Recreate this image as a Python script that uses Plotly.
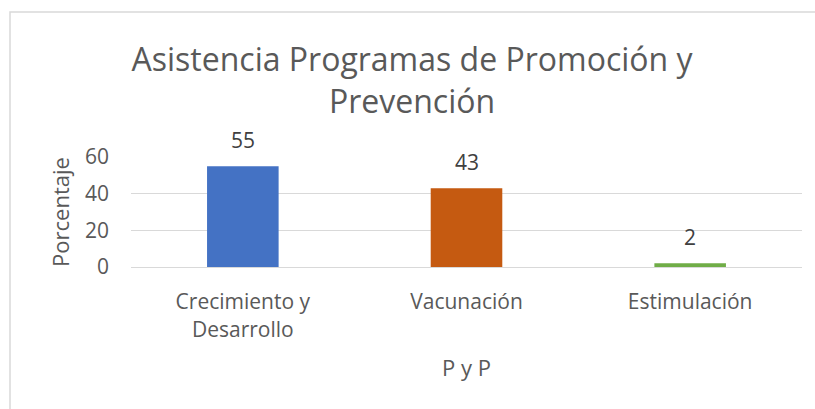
import plotly.graph_objects as go

# Datos del gráfico
categorias = ["Crecimiento y<br>Desarrollo", "Vacunación", "Estimulación"]
porcentajes = [55, 43, 2]
colores = ["#4472C4", "#C55A11", "#70AD47"]
ticks_y = [0, 20, 40, 60]

W, H = 815, 409
L, T = 131, 157
R, B = W - 802, H - 267
pw, ph = W - L - R, H - T - B

gris = "#595959"
fuente = "Open Sans"

fig = go.Figure()
fig.add_trace(go.Bar(
    x=categorias,
    y=porcentajes,
    marker=dict(color=colores, line=dict(width=0)),
    width=0.32,
    hoverinfo="x+y",
))

# Etiquetas de datos encima de cada barra
for cat, val in zip(categorias, porcentajes):
    fig.add_annotation(
        x=cat, y=val, text=str(val), showarrow=False,
        yanchor="bottom", yshift=10,
        font=dict(family=fuente, size=21, color="#404040"),
    )

# Borde del área del gráfico
fig.add_shape(
    type="rect", xref="paper", yref="paper",
    x0=(10 - L) / pw, x1=(W + 20 - L) / pw,
    y0=-(H + 20 - T - ph) / ph, y1=1 + (T - 12) / ph,
    line=dict(color="#d9d9d9", width=1.5), layer="below",
)

fig.update_layout(
    width=W, height=H,
    margin=dict(l=L, r=R, t=T, b=B, autoexpand=False),
    paper_bgcolor="white", plot_bgcolor="white",
    showlegend=False,
    font=dict(family=fuente, color=gris, size=21),
    title=dict(
        text="Asistencia Programas de Promoción y<br>Prevención",
        x=412 / W, xanchor="center", y=1 - 71 / H, yanchor="top",
        font=dict(family=fuente, size=32, color=gris),
    ),
    xaxis=dict(
        title=dict(text="P y P", font=dict(size=22), standoff=19),
        tickfont=dict(size=21),
        showline=True, linecolor="#d9d9d9", linewidth=1,
        ticks="", showgrid=False, ticklabelstandoff=16,
        automargin=False,
    ),
    yaxis=dict(
        title=dict(text="Porcentaje", font=dict(size=22), standoff=9),
        range=[0, 60], tickvals=ticks_y,
        tickfont=dict(size=21),
        showgrid=True, gridcolor="#d9d9d9", gridwidth=1,
        zeroline=False, ticks="", ticklabelstandoff=21,
        automargin=False,
    ),
)

# sin margen en el cuerpo de la página, la figura ocupa toda la ventana
fig.write_html(
    "out.html",
    config={"displayModeBar": False},
    post_script="document.body.style.margin='0';",
)
